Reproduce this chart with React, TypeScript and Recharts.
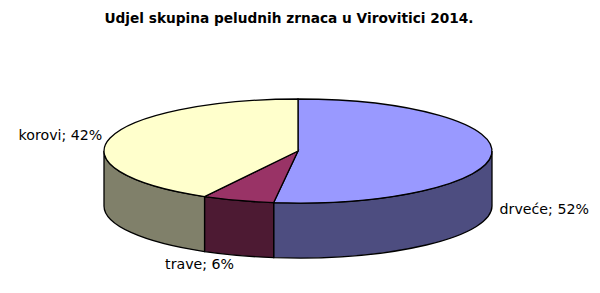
import React from "react";
import { PieChart, Pie } from "recharts";

const categories = ["drveće", "trave", "korovi"];
const values = [52, 6, 42];
const topColors = ["#9999FF", "#993366", "#FFFFCC"];
const sideColors = ["#4D4D80", "#4D1A33", "#80806A"];
const title = "Udjel skupina peludnih zrnaca u Virovitici 2014.";

const data = categories.map((name, i) => ({ name, value: values[i] }));

const TILT = 0.268;
const DEPTH = 55;
const FONT = "'DejaVu Sans', Verdana, sans-serif";

const rad = (d: number) => (d * Math.PI) / 180;

function Slice3D(props: any) {
  const { cx, cy, outerRadius, startAngle, endAngle, index, percent, name } = props;
  const rx = outerRadius;
  const ry = outerRadius * TILT;
  const P = (a: number, dy = 0) => [cx + rx * Math.cos(rad(a)), cy - ry * Math.sin(rad(a)) + dy];
  const hi = Math.max(startAngle, endAngle);
  const lo = Math.min(startAngle, endAngle);
  const sides: string[] = [];
  for (let k = -2; k <= 2; k++) {
    const f0 = -180 + 360 * k;
    const f1 = 360 * k;
    const a = Math.max(lo, f0);
    const b = Math.min(hi, f1);
    if (b - a > 0.01) {
      const [x1, y1] = P(b);
      const [x2, y2] = P(a);
      const large = b - a > 180 ? 1 : 0;
      sides.push(
        `M${x1},${y1} A${rx},${ry} 0 ${large} 1 ${x2},${y2} L${x2},${y2 + DEPTH} A${rx},${ry} 0 ${large} 0 ${x1},${y1 + DEPTH} Z`
      );
    }
  }
  const [sx, sy] = P(startAngle);
  const [ex, ey] = P(endAngle);
  const largeTop = hi - lo > 180 ? 1 : 0;
  const top = `M${cx},${cy} L${sx},${sy} A${rx},${ry} 0 ${largeTop} 1 ${ex},${ey} Z`;

  const mid = (startAngle + endAngle) / 2;
  const c = Math.cos(rad(mid));
  const s = Math.sin(rad(mid));
  let lx = cx + (rx + 8) * c;
  let ly = cy - (ry + 8) * s + 4;
  let anchor: "start" | "end" | "middle" = c > 0.5 ? "start" : c < -0.5 ? "end" : "middle";
  if (s < -0.2) ly += DEPTH + 2;
  if (anchor === "middle") lx -= 36;
  if (c > 0.5 && s < 0.2) ly += DEPTH;

  return (
    <g>
      {sides.map((d, i) => (
        <path key={i} d={d} fill={sideColors[index]} stroke="#000" strokeWidth={1.3} />
      ))}
      <path d={top} fill={topColors[index]} stroke="#000" strokeWidth={1.3} />
      <text x={lx} y={ly} textAnchor={anchor} fontFamily={FONT} fontSize={14.2} fill="#000">
        {`${name}; ${Math.round(percent * 100)}%`}
      </text>
    </g>
  );
}

export default function App() {
  return (
    <div style={{ position: "absolute", left: 0, top: 0, width: 600, height: 293, background: "#fff" }}>
      <PieChart width={600} height={293} margin={{ top: 0, right: 0, bottom: 0, left: 0 }}>
        <text x={289} y={23} textAnchor="middle" fontFamily={FONT} fontWeight="bold" fontSize={13.7} fill="#000">
          {title}
        </text>
        <Pie
          data={data}
          dataKey="value"
          nameKey="name"
          cx={298}
          cy={151}
          outerRadius={194}
          startAngle={90}
          endAngle={-270}
          fill="none"
          stroke="none"
          isAnimationActive={false}
          labelLine={false}
          label={(p: any) => <Slice3D {...p} />}
        />
      </PieChart>
    </div>
  );
}
